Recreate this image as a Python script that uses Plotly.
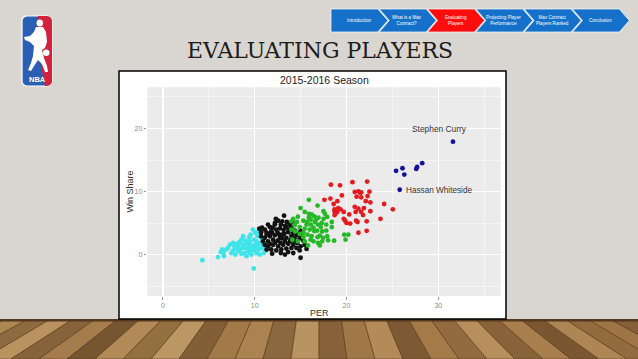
import math
import plotly.graph_objects as go

W, H = 638, 359

# ---------------- data ----------------
cyan_x = [4.3,6.0,6.6,6.45,7.3,6.9,7.65,8.0,8.35,8.55,8.85,9.1,9.45,9.8,9.9,9.65,9.3,8.9,8.55,8.2,9.9,10.05,10.35,10.65,10.3,10.7,10.8,11.0,10.55,10.2,9.65,9.1,7.9,7.45,7.8,8.7,9.2,9.5,9.7,10.2,10.45,11.1,10.95,9.55,10.05,8.25,8.45,7.1,7.65,9.0,9.4,10.55,11.2,9.9,9.45,10.0,6.65,6.3,10.35,8.75,8.1]
cyan_y = [-0.85,-0.35,0.3,0.85,1.6,0.85,0.7,1.1,2.05,2.4,1.1,1.75,2.15,4.0,2.4,0.85,0.6,0.3,0.15,0.6,-2.15,1.1,1.6,1.9,2.95,2.7,1.1,0.3,0.05,0.3,0.05,-0.2,0.05,0.3,1.35,1.6,1.1,1.6,1.2,2.15,0.85,1.1,1.6,3.2,3.5,1.35,0.85,1.1,1.9,2.25,2.8,1.1,0.7,0.7,0.3,1.6,-0.2,0.45,3.6,2.95,1.75]

black_x = [13.2,12.3,12.55,13.0,12.85,12.2,11.65,11.1,10.5,10.7,11.3,11.8,12.35,13.45,13.8,14.0,14.4,14.7,14.2,13.65,13.2,12.7,12.2,11.65,11.1,11.45,12.0,12.5,13.0,13.45,13.9,14.35,14.9,15.3,14.65,14.2,13.65,13.1,12.55,12.0,11.45,11.8,12.35,12.9,13.45,14.0,14.55,15.0,15.65,15.45,14.9,11.9,13.3,15.0,10.7,10.9,11.3,11.65,11.95,12.75,13.15,13.5,13.3,14.0,14.55,12.75,12.2,13.3,13.85,14.3,12.8,11.65,11.1,11.3,13.65,14.2,12.85,12.2,14.1,11.45,13.7,15.1,15.0,12.5,11.9,13.0,10.8]
black_y = [6.2,5.7,5.4,5.3,4.8,5.05,4.4,4.0,4.15,3.6,3.5,3.7,4.0,4.4,4.8,4.3,3.85,3.2,3.5,3.6,3.3,3.2,3.1,2.95,2.7,2.15,2.4,2.25,2.6,2.7,2.4,2.7,2.6,2.25,1.9,1.6,1.75,1.6,1.35,1.6,1.35,0.85,0.7,0.85,1.0,1.1,1.1,1.35,0.95,1.6,0.7,0.2,0.05,-0.45,2.95,2.15,3.2,3.3,4.3,4.2,3.95,5.2,4.6,3.05,3.2,2.7,1.9,2.15,2.15,2.25,1.9,1.75,1.6,0.85,0.45,0.3,0.3,4.8,5.2,4.8,4.0,2.95,3.75,3.5,3.5,3.2,4.3]

green_x = [15.9,16.85,15.0,15.45,15.9,16.2,16.5,16.95,17.5,17.65,17.9,17.5,14.2,14.7,14.6,14.0,15.3,15.7,16.1,16.55,16.9,17.3,17.8,18.4,14.9,15.45,16.0,16.4,16.8,17.35,17.8,14.4,14.9,15.3,15.75,16.2,16.85,17.1,17.45,17.9,17.35,18.0,18.65,16.4,15.45,14.7,14.1,15.8,17.1,16.9,16.1,15.65,16.5,15.9,16.7,17.2,15.3,14.0,19.75,19.9,20.2,16.1,14.35,18.4]
green_y = [8.7,7.8,7.4,6.8,6.5,6.4,6.1,5.9,6.9,6.5,6.0,5.7,5.7,6.05,5.2,5.3,5.4,5.2,4.8,5.2,4.8,5.05,4.8,4.4,4.4,4.15,4.0,4.3,3.85,3.7,3.85,3.7,3.3,3.5,3.2,2.95,2.8,3.05,2.7,2.95,2.15,2.3,2.25,2.15,2.15,2.15,2.4,1.5,1.5,1.9,2.4,4.8,3.75,5.9,5.6,4.4,2.8,4.0,3.2,2.4,3.2,5.6,4.7,5.2]

red_x = [18.3,19.3,20.65,22.25,19.5,18.25,19.0,18.6,20.9,21.3,21.5,21.6,21.1,21.6,22.5,22.3,22.6,24.1,25.05,23.7,22.6,21.9,21.3,21.6,21.8,21.0,18.7,18.8,19.0,18.7,19.1,19.7,20.3,19.7,20.0,20.4,21.05,21.2,22.2,21.3,22.2,19.85,20.9,17.6,18.7,19.35,22.1]
red_y = [11.1,11.0,11.5,11.6,9.4,8.9,8.5,8.05,9.95,10.05,9.8,9.9,9.2,9.1,10.0,9.3,8.3,8.05,7.2,5.7,6.9,7.4,7.3,6.8,6.3,6.8,6.9,6.5,6.8,7.2,7.4,6.8,6.4,5.7,5.05,4.95,5.4,5.2,5.3,3.5,3.8,5.4,7.6,8.7,6.3,7.2,8.5]

blue_x = [31.6,25.4,26.1,26.3,27.6,27.7,28.25,25.8]
blue_y = [17.9,13.3,13.7,12.7,13.6,13.9,14.5,10.3]

label_names = ["Stephen Curry", "Hassan Whiteside"]
label_x = [30.1, 26.3]
label_y = [19.9, 10.2]

x_ticks = [0, 10, 20, 30]
y_ticks = [0, 10, 20]

nav_labels = ["Introduction", "What is a Max<br>Contract?", "Evaluating<br>Players",
              "Projecting Player<br>Performance", "Max Contract<br>Players Ranked", "Conclusion"]
nav_active = 2

# ---------------- helpers ----------------
def px(x):
    return x / W

def py(y):
    return 1 - y / H

def poly(points):
    return "M " + " L ".join(f"{px(x):.5f},{py(y):.5f}" for x, y in points) + " Z"

def rect(x0, y0, x1, y1, fill, line=None, lw=0, layer="below"):
    return dict(type="rect", xref="paper", yref="paper", x0=px(x0), x1=px(x1),
                y0=py(y1), y1=py(y0), fillcolor=fill, layer=layer,
                line=dict(color=line or fill, width=lw))

def rrect_pts(x0, y0, x1, y1, r):
    pts = []
    corners = [(x1 - r, y0 + r, -90, 0), (x1 - r, y1 - r, 0, 90),
               (x0 + r, y1 - r, 90, 180), (x0 + r, y0 + r, 180, 270)]
    for cx, cy, a0, a1 in corners:
        for k in range(7):
            a = math.radians(a0 + (a1 - a0) * k / 6)
            pts.append((cx + r * math.cos(a), cy + r * math.sin(a)))
    return pts

shapes = []
annotations = []

# ---------------- wood floor ----------------
floor_top = 320
wood_colors = ["#86633a", "#a07a4b", "#7a5834", "#ad8652", "#8e6a40", "#b9925f", "#87633b",
               "#a57d4c", "#765531", "#b18a57", "#93703f", "#bc9663", "#825f37", "#a27a48",
               "#aa8350", "#8c683f", "#ba9362", "#86613a", "#a07848", "#b28b58", "#7d5a33",
               "#a37a48", "#926c40", "#b78f5d", "#88633a", "#a87f4c", "#7a5731", "#ae8654",
               "#926b3f", "#9e7645", "#845f37", "#a98050", "#7f5c34", "#9a7142"]
shapes.append(rect(0, floor_top, W, H, "#93703f"))
ks = list(range(-17, 17))
for i, k in enumerate(ks):
    xt0, xt1 = 319 + k * 22.5, 319 + (k + 1) * 22.5
    xb0, xb1 = 319 + k * 28, 319 + (k + 1) * 28
    shapes.append(dict(type="path", xref="paper", yref="paper", layer="below",
                       path=poly([(xt0, floor_top), (xt1, floor_top), (xb1, H), (xb0, H)]),
                       fillcolor=wood_colors[i % len(wood_colors)],
                       line=dict(color="#5a4024", width=0.6)))
shapes.append(rect(0, floor_top - 1, W, floor_top + 1.5, "#54391f"))

# ---------------- NBA logo ----------------
shapes.append(dict(type="path", xref="paper", yref="paper", layer="below",
                   path=poly(rrect_pts(22, 16, 52, 86, 5)), fillcolor="#2b5fb3",
                   line=dict(color="white", width=1.2)))
shapes.append(dict(type="path", xref="paper", yref="paper", layer="below",
                   path=poly([(38, 16)] + rrect_pts(22, 16, 52, 86, 5)[0:14] + [(45, 86), (40, 60)]),
                   fillcolor="#d2223d", line=dict(color="#d2223d", width=0)))
shapes.append(dict(type="path", xref="paper", yref="paper", layer="below",
                   path=poly([(36, 27), (43, 27), (46, 32), (47, 42), (45, 48), (42, 50), (44, 58),
                              (47, 66), (48, 72), (45, 72), (42, 64), (38, 60), (34, 66), (31, 71),
                              (28, 70), (31, 63), (33, 56), (34, 46), (30, 42), (25, 40), (24, 37),
                              (30, 36), (34, 32)]),
                   fillcolor="white", line=dict(color="white", width=0)))
shapes.append(dict(type="circle", xref="paper", yref="paper", layer="below",
                   x0=px(36.5), x1=px(43), y0=py(26.5), y1=py(19.5), fillcolor="white",
                   line=dict(color="white", width=0)))
shapes.append(dict(type="circle", xref="paper", yref="paper", layer="below",
                   x0=px(43), x1=px(49.5), y0=py(56), y1=py(49.5), fillcolor="white",
                   line=dict(color="white", width=0)))
annotations.append(dict(text="<b>NBA</b>", x=px(37), y=py(79), xref="paper", yref="paper",
                        showarrow=False, font=dict(family="Liberation Sans", size=7.5, color="white"),
                        xanchor="center", yanchor="middle"))

# ---------------- navigation chevrons ----------------
nav_top, nav_bot = 9, 32
nav_mid = (nav_top + nav_bot) / 2
for i, lab in enumerate(nav_labels):
    L = 331 + 48.3 * i
    R = L + 46.8
    pts = [(L, nav_top), (R, nav_top), (R + 10, nav_mid), (R, nav_bot), (L, nav_bot)]
    if i > 0:
        pts.append((L + 10, nav_mid))
    col = "#ff0d0d" if i == nav_active else "#1470c8"
    shapes.append(dict(type="path", xref="paper", yref="paper", layer="below",
                       path=poly(pts), fillcolor=col, line=dict(color="white", width=0.7)))
    annotations.append(dict(text=lab, x=px(L + 28), y=py(nav_mid), xref="paper", yref="paper",
                            showarrow=False, align="center",
                            font=dict(family="Liberation Sans", size=4.6, color="white"),
                            xanchor="center", yanchor="middle"))

# ---------------- slide title ----------------
annotations.append(dict(text="EVALUATING PLAYERS", x=px(320), y=py(51), xref="paper", yref="paper",
                        showarrow=False, font=dict(family="DejaVu Serif", size=22, color="#1c1c1c"),
                        xanchor="center", yanchor="middle"))

# ---------------- chart box ----------------
shapes.append(rect(119, 71, 506, 319, "white", line="black", lw=1.5))
P_L, P_R, P_T, P_B = 147.3, 500.7, 87.3, 296
shapes.append(rect(P_L, P_T, P_R, P_B, "#ebebeb"))

annotations.append(dict(text="2015-2016 Season", x=px((P_L + P_R) / 2), y=py(79.5), xref="paper",
                        yref="paper", showarrow=False,
                        font=dict(family="Liberation Sans", size=10.5, color="#222"),
                        xanchor="center", yanchor="middle"))
annotations.append(dict(text="PER", x=px((P_L + P_R) / 2 - 4), y=py(313), xref="paper", yref="paper",
                        showarrow=False, font=dict(family="Liberation Sans", size=9, color="#333"),
                        xanchor="center", yanchor="middle"))
annotations.append(dict(text="Win Share", x=px(129.8), y=py((P_T + P_B) / 2), xref="paper",
                        yref="paper", showarrow=False, textangle=-90,
                        font=dict(family="Liberation Sans", size=9, color="#333"),
                        xanchor="center", yanchor="middle"))
annotations.append(dict(text=label_names[0], x=label_x[0], y=label_y[0], xref="x", yref="y",
                        showarrow=False, font=dict(family="Liberation Sans", size=8.4, color="#333"),
                        xanchor="center", yanchor="middle"))
annotations.append(dict(text=label_names[1], x=label_x[1], y=label_y[1], xref="x", yref="y",
                        showarrow=False, font=dict(family="Liberation Sans", size=8.2, color="#333"),
                        xanchor="left", yanchor="middle"))

fig = go.Figure()
series = [(cyan_x, cyan_y, "#3fe4ea"), (black_x, black_y, "#111111"),
          (green_x, green_y, "#26b826"), (red_x, red_y, "#e31b1f"), (blue_x, blue_y, "#12129c")]
for xs, ys, c in series:
    fig.add_trace(go.Scatter(x=xs, y=ys, mode="markers",
                             marker=dict(color=c, size=4.8, line=dict(width=0)),
                             showlegend=False, hoverinfo="skip"))

axis_common = dict(showline=False, zeroline=False, ticks="outside", ticklen=2.5, tickwidth=1,
                   tickcolor="#9a9a9a", gridcolor="white", gridwidth=1.2,
                   tickfont=dict(family="Liberation Sans", size=7, color="#8a8a8a"),
                   minor=dict(dtick=5, showgrid=True, gridcolor="white", gridwidth=0.5, ticks=""))
fig.update_layout(
    width=W, height=H, autosize=False,
    margin=dict(l=0, r=0, t=0, b=0, pad=0),
    paper_bgcolor="#d9d6d1", plot_bgcolor="rgba(0,0,0,0)",
    xaxis=dict(domain=[px(P_L), px(P_R)], range=[-1.7, 36.8], tickmode="array",
               tickvals=x_ticks, ticktext=[str(v) for v in x_ticks], **axis_common),
    yaxis=dict(domain=[py(P_B), py(P_T)], range=[-6.5, 26.5], tickmode="array",
               tickvals=y_ticks, ticktext=[str(v) for v in y_ticks], **axis_common),
    shapes=shapes, annotations=annotations,
)
fig.write_html("out.html", config={"displayModeBar": False, "staticPlot": True},
               post_script="document.body.style.margin='0';document.body.style.overflow='hidden';")
